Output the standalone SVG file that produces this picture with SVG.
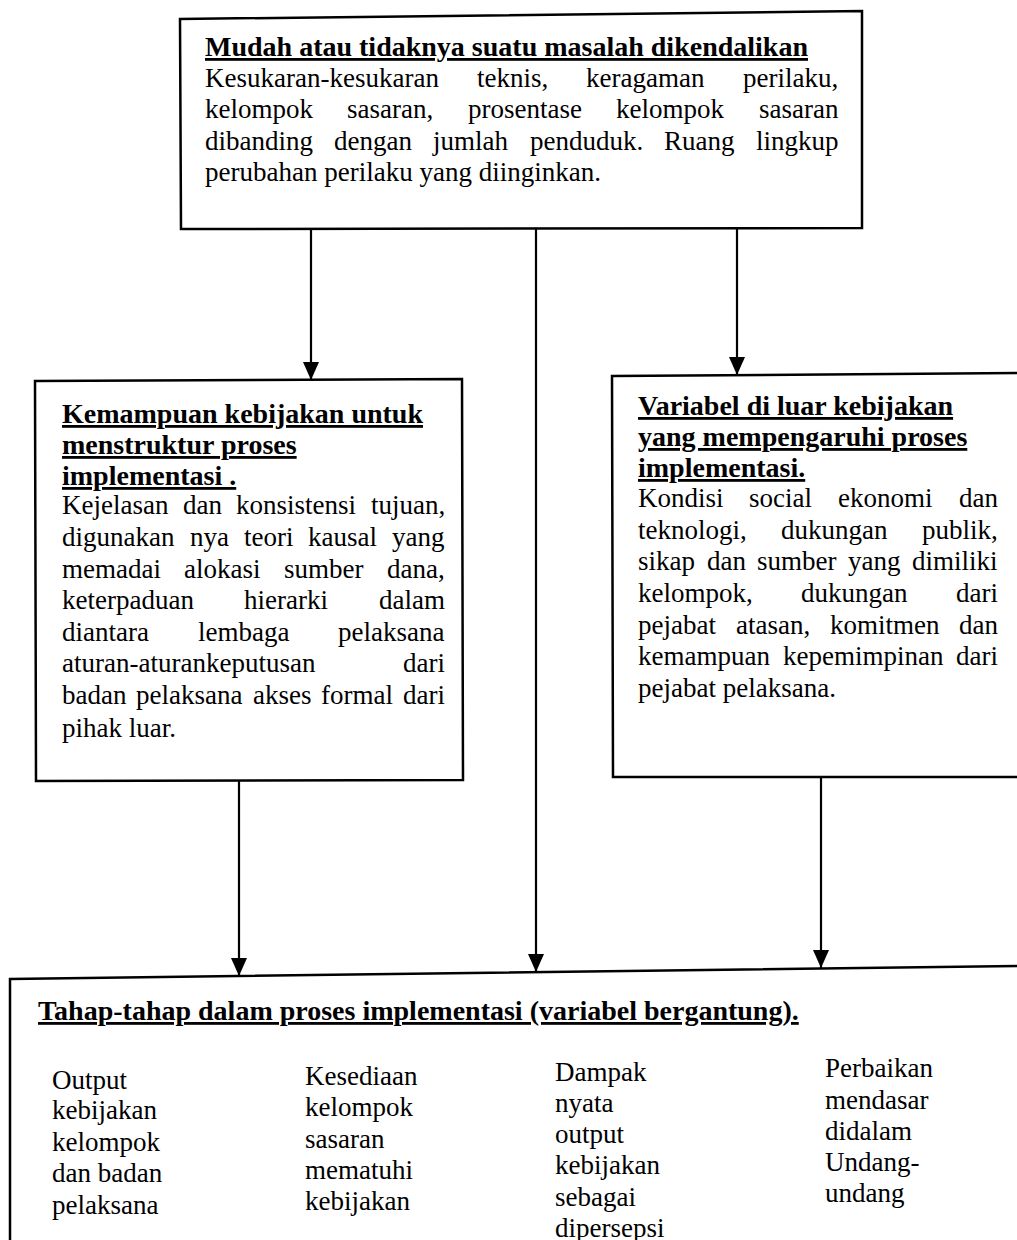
<svg xmlns="http://www.w3.org/2000/svg" width="1017" height="1240" viewBox="0 0 1017 1240">
<style>
.box{fill:#fff;stroke:#000;stroke-width:2.5}
.t{font-family:"Liberation Serif","Times New Roman",serif;font-size:27px;fill:#000}
.h{font-family:"Liberation Serif","Times New Roman",serif;font-size:28px;font-weight:bold;text-decoration:underline;fill:#000}
.edge{stroke:#000;stroke-width:2.2;fill:none;marker-end:url(#arr)}
</style>
<defs>
<marker id="arr" viewBox="0 0 18 16" refX="18" refY="8" markerWidth="18" markerHeight="16" markerUnits="userSpaceOnUse" orient="auto">
<path d="M0,0 L18,8 L0,16 z" fill="#000"/>
</marker>
</defs>
<rect width="1017" height="1240" fill="#fff"/>

<g id="node-top">
<polygon class="box" points="180,19 862,11 862,228 181,229"/>
<text class="h" x="205" y="56">Mudah atau tidaknya suatu masalah dikendalikan</text>
<text class="t" y="87"><tspan x="205">Kesukaran-kesukaran</tspan><tspan x="477">teknis,</tspan><tspan x="586">keragaman</tspan><tspan x="743">perilaku,</tspan></text>
<text class="t" y="118"><tspan x="205">kelompok</tspan><tspan x="347">sasaran,</tspan><tspan x="468">prosentase</tspan><tspan x="616">kelompok</tspan><tspan x="759">sasaran</tspan></text>
<text class="t" y="150"><tspan x="205">dibanding</tspan><tspan x="334">dengan</tspan><tspan x="433">jumlah</tspan><tspan x="530">penduduk.</tspan><tspan x="664">Ruang</tspan><tspan x="756">lingkup</tspan></text>
<text class="t" x="205" y="181">perubahan perilaku yang diinginkan.</text>
</g>

<g id="node-left">
<polygon class="box" points="35,381 462,379 463,780 36,781"/>
<text class="h" x="62" y="423">Kemampuan kebijakan untuk</text>
<text class="h" x="62" y="454">menstruktur proses</text>
<text class="h" x="62" y="485">implementasi .</text>
<text class="t" y="514"><tspan x="62">Kejelasan</tspan><tspan x="183">dan</tspan><tspan x="236">konsistensi</tspan><tspan x="371">tujuan,</tspan></text>
<text class="t" y="546"><tspan x="62">digunakan</tspan><tspan x="190">nya</tspan><tspan x="244">teori</tspan><tspan x="308">kausal</tspan><tspan x="392">yang</tspan></text>
<text class="t" y="578"><tspan x="62">memadai</tspan><tspan x="184">alokasi</tspan><tspan x="284">sumber</tspan><tspan x="387">dana,</tspan></text>
<text class="t" y="609"><tspan x="62">keterpaduan</tspan><tspan x="244">hierarki</tspan><tspan x="379">dalam</tspan></text>
<text class="t" y="641"><tspan x="62">diantara</tspan><tspan x="198">lembaga</tspan><tspan x="338">pelaksana</tspan></text>
<text class="t" y="672"><tspan x="62">aturan-aturankeputusan</tspan><tspan x="403">dari</tspan></text>
<text class="t" y="704"><tspan x="62">badan</tspan><tspan x="136">pelaksana</tspan><tspan x="253">akses</tspan><tspan x="321">formal</tspan><tspan x="403">dari</tspan></text>
<text class="t" x="62" y="737">pihak luar.</text>
</g>

<g id="node-right">
<polygon class="box" points="612,376 1024,373 1024,777 613,777"/>
<text class="h" x="638" y="415">Variabel di luar kebijakan</text>
<text class="h" x="638" y="446">yang mempengaruhi proses</text>
<text class="h" x="638" y="477">implementasi.</text>
<text class="t" y="507"><tspan x="638">Kondisi</tspan><tspan x="749">social</tspan><tspan x="838">ekonomi</tspan><tspan x="959">dan</tspan></text>
<text class="t" y="539"><tspan x="638">teknologi,</tspan><tspan x="781">dukungan</tspan><tspan x="922">publik,</tspan></text>
<text class="t" y="570"><tspan x="638">sikap</tspan><tspan x="707">dan</tspan><tspan x="757">sumber</tspan><tspan x="848">yang</tspan><tspan x="912">dimiliki</tspan></text>
<text class="t" y="602"><tspan x="638">kelompok,</tspan><tspan x="801">dukungan</tspan><tspan x="956">dari</tspan></text>
<text class="t" y="634"><tspan x="638">pejabat</tspan><tspan x="736">atasan,</tspan><tspan x="830">komitmen</tspan><tspan x="959">dan</tspan></text>
<text class="t" y="665"><tspan x="638">kemampuan</tspan><tspan x="783">kepemimpinan</tspan><tspan x="956">dari</tspan></text>
<text class="t" x="638" y="697">pejabat pelaksana.</text>
</g>

<g id="node-bottom">
<polygon class="box" points="10,979 1024,966 1024,1250 10,1250"/>
<text class="h" x="38" y="1020">Tahap-tahap dalam proses implementasi (variabel bergantung).</text>
<text class="t" x="52"><tspan x="52" y="1089">Output</tspan><tspan x="52" y="1119">kebijakan</tspan><tspan x="52" y="1151">kelompok</tspan><tspan x="52" y="1182">dan badan</tspan><tspan x="52" y="1214">pelaksana</tspan></text>
<text class="t" x="305"><tspan x="305" y="1085">Kesediaan</tspan><tspan x="305" y="1116">kelompok</tspan><tspan x="305" y="1148">sasaran</tspan><tspan x="305" y="1179">mematuhi</tspan><tspan x="305" y="1210">kebijakan</tspan></text>
<text class="t" x="555"><tspan x="555" y="1081">Dampak</tspan><tspan x="555" y="1112">nyata</tspan><tspan x="555" y="1143">output</tspan><tspan x="555" y="1174">kebijakan</tspan><tspan x="555" y="1206">sebagai</tspan><tspan x="555" y="1237">dipersepsi</tspan></text>
<text class="t" x="825"><tspan x="825" y="1077">Perbaikan</tspan><tspan x="825" y="1109">mendasar</tspan><tspan x="825" y="1140">didalam</tspan><tspan x="825" y="1171">Undang-</tspan><tspan x="825" y="1202">undang</tspan></text>
</g>

<g id="connectors">
<line class="edge" x1="311" y1="229" x2="311" y2="380"/>
<line class="edge" x1="737" y1="229" x2="737" y2="375"/>
<line class="edge" x1="536" y1="229" x2="536" y2="972"/>
<line class="edge" x1="239" y1="781" x2="239" y2="976"/>
<line class="edge" x1="821" y1="777" x2="821" y2="968"/>
</g>
</svg>
